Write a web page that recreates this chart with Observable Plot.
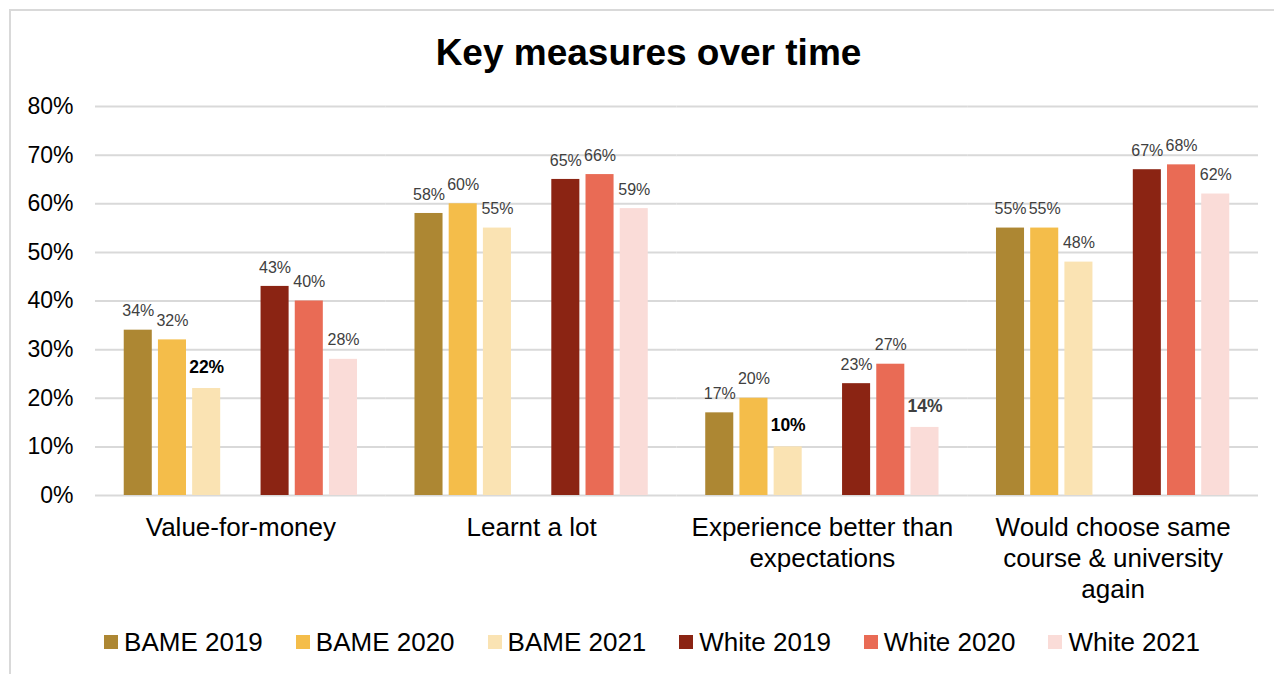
<!DOCTYPE html>
<html>
<head>
<meta charset="utf-8">
<script src="https://cdn.jsdelivr.net/npm/d3@7"></script>
<script src="https://cdn.jsdelivr.net/npm/@observablehq/plot@0.6"></script>
<style>
  html, body { margin: 0; padding: 0; background: #fff; overflow: hidden; }
  body { width: 1274px; height: 674px; position: relative; font-family: "Liberation Sans", Arial, sans-serif; }
  #frame { position: absolute; left: 9px; top: 9px; width: 1300px; height: 700px; border: 2px solid #d9d9d9; box-sizing: border-box; }
  #title { position: absolute; left: 9px; width: 1279px; top: 32px; text-align: center; font-size: 37px; line-height: 42px; font-weight: bold; color: #000; }
  #chart { position: absolute; left: 0; top: 80px; }
  #legend { position: absolute; left: 0; width: 1304px; top: 627px; display: flex; justify-content: center; gap: 33px; font-size: 26px; line-height: 30px; color: #000; }
  .item { display: flex; align-items: center; }
  .sw { width: 14px; height: 14px; margin-right: 6px; }
</style>
</head>
<body>
<div id="frame"></div>
<div id="title">Key measures over time</div>
<div id="chart"></div>
<div id="legend"></div>
<script>
const categories = ["Value-for-money", "Learnt a lot", "Experience better than expectations", "Would choose same course & university again"];
const categoryLabels = ["Value-for-money", "Learnt a lot", "Experience better than\nexpectations", "Would choose same\ncourse & university\nagain"];
const series = ["BAME 2019", "BAME 2020", "BAME 2021", "White 2019", "White 2020", "White 2021"];
const colors = ["#ad8733", "#f4bd4a", "#fae3b3", "#8b2413", "#e96b55", "#fadcd8"];
const bame2019 = [0.34, 0.58, 0.17, 0.55];
const bame2020 = [0.32, 0.60, 0.20, 0.55];
const bame2021 = [0.22, 0.55, 0.10, 0.48];
const white2019 = [0.43, 0.65, 0.23, 0.67];
const white2020 = [0.40, 0.66, 0.27, 0.68];
const white2021 = [0.28, 0.59, 0.14, 0.62];
const boldLabels = [["Value-for-money", "BAME 2021"], ["Experience better than expectations", "BAME 2021"], ["Experience better than expectations", "White 2021"]];
const yTicks = [0, 0.1, 0.2, 0.3, 0.4, 0.5, 0.6, 0.7, 0.8];

const seriesValues = [bame2019, bame2020, bame2021, white2019, white2020, white2021];
const data = [];
categories.forEach((c, i) => series.forEach((s, j) => {
  const bold = boldLabels.some(b => b[0] === c && b[1] === s);
  data.push({category: c, series: s, value: seriesValues[j][i], bold});
}));

const xDomain = ["BAME 2019", "BAME 2020", "BAME 2021", "", "White 2019", "White 2020", "White 2021"];
const labelMap = new Map(categories.map((c, i) => [c, categoryLabels[i]]));
const pct = d => d3.format(".0%")(d.value);

const plot = Plot.plot({
  width: 1274,
  height: 540,
  marginLeft: 95,
  marginRight: 16,
  marginTop: 26,
  marginBottom: 125,
  style: {fontFamily: "'Liberation Sans', Arial, sans-serif", background: "transparent"},
  fx: {domain: categories, padding: 0, round: false, label: null},
  x: {domain: xDomain, paddingInner: 0.18, paddingOuter: 0.84, round: false, axis: null},
  y: {domain: [0, 0.8], label: null},
  color: {domain: series, range: colors},
  marks: [
    Plot.gridY(yTicks, {stroke: "#d9d9d9", strokeOpacity: 1, strokeWidth: 2}),
    Plot.axisY(yTicks, {tickSize: 0, tickPadding: 22, fontSize: 23, fill: "#000", tickFormat: d3.format(".0%"), label: null}),
    Plot.axisFx({anchor: "bottom", tickSize: 0, tickPadding: 18, fontSize: 26, lineHeight: 1.2, fill: "#000", tickFormat: d => labelMap.get(d), label: null}),
    Plot.barY(data, {fx: "category", x: "series", y: "value", fill: "series"}),
    Plot.text(data.filter(d => !d.bold), {fx: "category", x: "series", y: "value", text: pct, dy: -19, fontSize: 16, fill: "#404040"}),
    Plot.text(data.filter(d => d.bold && d.series !== "White 2021"), {fx: "category", x: "series", y: "value", text: pct, dy: -21, fontSize: 17.5, fontWeight: "bold", fill: "#000"}),
    Plot.text(data.filter(d => d.bold && d.series === "White 2021"), {fx: "category", x: "series", y: "value", text: pct, dy: -21, fontSize: 17.5, fontWeight: "bold", fill: "#404040"})
  ]
});
document.getElementById("chart").appendChild(plot);

const legend = document.getElementById("legend");
series.forEach((s, i) => {
  const item = document.createElement("div");
  item.className = "item";
  const sw = document.createElement("div");
  sw.className = "sw";
  sw.style.background = colors[i];
  const t = document.createElement("span");
  t.textContent = s;
  item.appendChild(sw);
  item.appendChild(t);
  legend.appendChild(item);
});
</script>
</body>
</html>
